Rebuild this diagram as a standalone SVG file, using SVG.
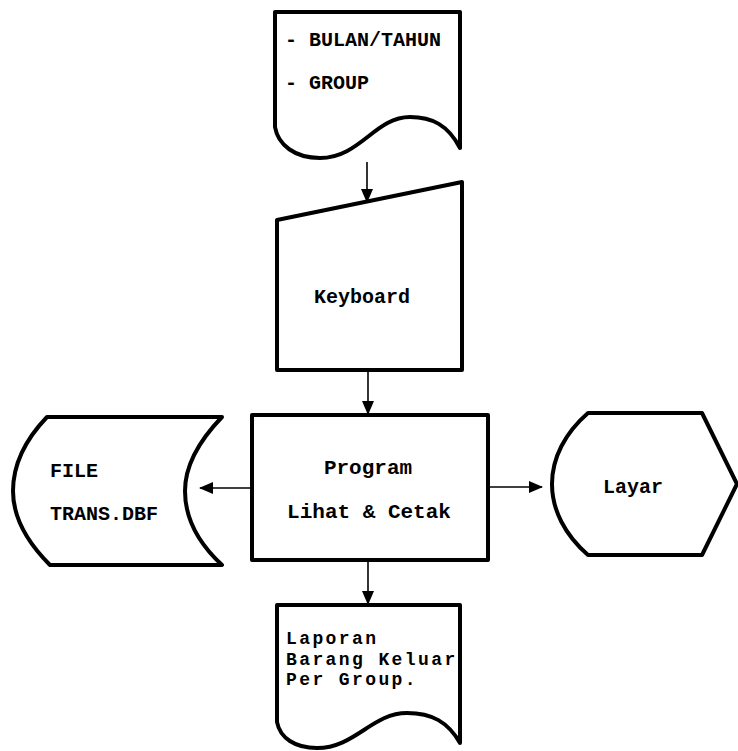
<svg xmlns="http://www.w3.org/2000/svg" width="738" height="751" viewBox="0 0 738 751">
<defs>
<style>
.shape{fill:#fff;stroke:#000;stroke-width:4;stroke-linejoin:round}
.t{font-family:"Liberation Mono","DejaVu Sans Mono",monospace;font-weight:bold;font-size:20px;fill:#000}
.small{font-size:18px;letter-spacing:2.4px}
.conn{stroke:#000;stroke-width:1.6;fill:none}
</style>
<marker id="ah" viewBox="0 0 14 12" refX="13" refY="6" markerWidth="14" markerHeight="12" markerUnits="userSpaceOnUse" orient="auto">
<path d="M0,0 L14,6 L0,12 Z" fill="#000"/>
</marker>
</defs>
<rect width="738" height="751" fill="#fff"/>
<g id="connectors">
<line class="conn" x1="367" y1="162" x2="367" y2="202" marker-end="url(#ah)"/>
<line class="conn" x1="368" y1="372" x2="368" y2="414" marker-end="url(#ah)"/>
<line class="conn" x1="252" y1="488" x2="200" y2="488" marker-end="url(#ah)"/>
<line class="conn" x1="488" y1="487" x2="542" y2="487" marker-end="url(#ah)"/>
<line class="conn" x1="368" y1="562" x2="368" y2="604" marker-end="url(#ah)"/>
</g>
<g id="input-doc">
<path class="shape" d="M275,12 L460,12 L460,148 C448,125 432,117 410,117 C375,117 360,158 320,158 C295,158 278,145 275,127 Z"/>
<text class="t" x="285" y="46">- BULAN/TAHUN</text>
<text class="t" x="285" y="89">- GROUP</text>
</g>
<g id="keyboard">
<path class="shape" d="M277,220 L462,182 L462,370 L277,370 Z"/>
<text class="t" x="362" y="303" text-anchor="middle">Keyboard</text>
</g>
<g id="program">
<rect class="shape" x="252" y="415" width="236" height="145"/>
<text class="t" x="368" y="474" text-anchor="middle" style="font-size:21px">Program</text>
<text class="t" x="369" y="518" text-anchor="middle" style="font-size:21px">Lihat &amp; Cetak</text>
</g>
<g id="file">
<path class="shape" d="M47,417 L222,417 C195,445 185,470 185,491 C185,515 195,540 222,565 L50,565 C25,540 13,515 13,491 C13,465 25,440 47,417 Z"/>
<text class="t" x="50" y="477">FILE</text>
<text class="t" x="50" y="520">TRANS.DBF</text>
</g>
<g id="layar">
<path class="shape" d="M588,413 L702,413 L737,484 L702,555 L588,555 C565,535 552,510 552,484 C552,458 565,433 588,413 Z"/>
<text class="t" x="633" y="493" text-anchor="middle">Layar</text>
</g>
<g id="output-doc">
<path class="shape" d="M277,605 L460,605 L460,743 C448,722 432,713 407,713 C372,713 355,748 317,748 C295,748 280,738 277,722 Z"/>
<text class="t small" x="286" y="644">Laporan</text>
<text class="t small" x="286" y="664.5">Barang Keluar</text>
<text class="t small" x="286" y="685">Per Group.</text>
</g>
</svg>
